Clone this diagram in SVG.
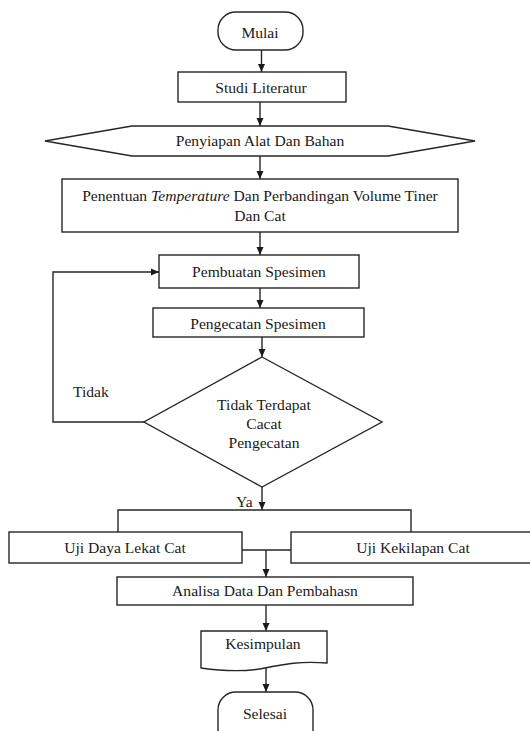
<svg xmlns="http://www.w3.org/2000/svg" width="530" height="731" viewBox="0 0 530 731" font-family="'Liberation Serif', 'Times New Roman', 'DejaVu Serif', serif">
<style>
.s{fill:#fff;stroke:#262626;stroke-width:1.4}
.c{fill:none;stroke:#262626;stroke-width:1.4}
text{font-family:'Liberation Serif','Times New Roman','DejaVu Serif',serif;font-size:15.6px;fill:#1a1a1a}
.m{text-anchor:middle}
</style>
<defs>
<marker id="ah" viewBox="0 0 8 8" refX="8" refY="4" markerWidth="8" markerHeight="8" markerUnits="userSpaceOnUse" orient="auto">
<path d="M0,0.5 L8,4 L0,7.5 Z" fill="#1a1a1a"/>
</marker>
</defs>
<rect width="530" height="731" fill="#fff"/>
<g id="connectors">
<line class="c" x1="261.5" y1="50" x2="261.5" y2="72" marker-end="url(#ah)"/>
<line class="c" x1="260" y1="102" x2="260" y2="126" marker-end="url(#ah)"/>
<line class="c" x1="260" y1="156" x2="260" y2="179" marker-end="url(#ah)"/>
<line class="c" x1="260" y1="232" x2="260" y2="255" marker-end="url(#ah)"/>
<line class="c" x1="260" y1="288" x2="260" y2="308" marker-end="url(#ah)"/>
<line class="c" x1="262" y1="337" x2="262" y2="357" marker-end="url(#ah)"/>
<polyline class="c" points="144,422 53,422 53,272 159,272" marker-end="url(#ah)"/>
<line class="c" x1="262" y1="487" x2="262" y2="510" marker-end="url(#ah)"/>
<polyline class="c" points="118,532 118,510 411,510 411,532"/>
<line class="c" x1="242" y1="550" x2="291" y2="550"/>
<line class="c" x1="266" y1="550" x2="266" y2="577" marker-end="url(#ah)"/>
<line class="c" x1="266" y1="605" x2="266" y2="631" marker-end="url(#ah)"/>
<line class="c" x1="266" y1="668" x2="266" y2="692" marker-end="url(#ah)"/>
<text x="73" y="397">Tidak</text>
<text x="236" y="507">Ya</text>
</g>
<g id="mulai">
<rect class="s" x="218" y="12" width="85" height="38" rx="18"/>
<text class="m" x="260" y="38">Mulai</text>
</g>
<g id="studi">
<rect class="s" x="178" y="72" width="168" height="30"/>
<text class="m" x="261" y="93">Studi Literatur</text>
</g>
<g id="penyiapan">
<polygon class="s" points="45,141 132,126 388,126 475,141 388,156 132,156"/>
<text class="m" x="260" y="146">Penyiapan Alat Dan Bahan</text>
</g>
<g id="penentuan">
<rect class="s" x="62" y="179" width="396" height="53"/>
<text class="m" x="260" y="201">Penentuan <tspan font-style="italic">Temperature</tspan> Dan Perbandingan Volume Tiner</text>
<text class="m" x="260" y="221">Dan Cat</text>
</g>
<g id="pembuatan">
<rect class="s" x="159" y="255" width="200" height="33"/>
<text class="m" x="259" y="277">Pembuatan Spesimen</text>
</g>
<g id="pengecatan">
<rect class="s" x="153" y="308" width="211" height="29"/>
<text class="m" x="258" y="329">Pengecatan Spesimen</text>
</g>
<g id="keputusan">
<polygon class="s" points="262,357 382,422 262,487 144,422"/>
<text class="m" x="264" y="410">Tidak Terdapat</text>
<text class="m" x="264" y="429">Cacat</text>
<text class="m" x="264" y="448">Pengecatan</text>
</g>
<g id="uji-daya">
<rect class="s" x="9" y="532" width="233" height="31"/>
<text class="m" x="125" y="553">Uji Daya Lekat Cat</text>
</g>
<g id="uji-kekilapan">
<rect class="s" x="291" y="532" width="245" height="31"/>
<text class="m" x="413" y="553">Uji Kekilapan Cat</text>
</g>
<g id="analisa">
<rect class="s" x="117" y="577" width="296" height="28"/>
<text class="m" x="265" y="596">Analisa Data Dan Pembahasn</text>
</g>
<g id="kesimpulan">
<path class="s" d="M201,631 H327 V663 C300,661 285,664 265,668 C245,672 222,671 201,668 Z"/>
<text class="m" x="263" y="649">Kesimpulan</text>
</g>
<g id="selesai">
<rect class="s" x="218" y="692" width="95" height="56" rx="18"/>
<text class="m" x="265" y="719">Selesai</text>
</g>
</svg>
